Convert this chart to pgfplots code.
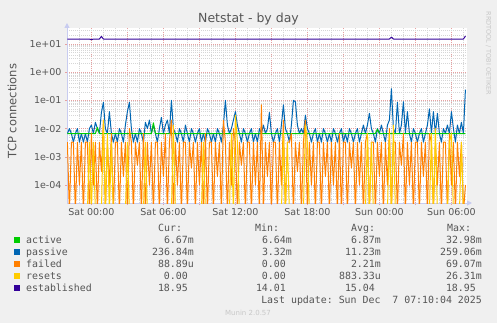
\documentclass[border=0pt]{standalone}
\usepackage{pgfplots}
\pgfplotsset{compat=1.18}
\usepackage{fontspec}
\setmainfont{DejaVu Sans}
\setmonofont{DejaVu Sans Mono}
\usetikzlibrary{arrows.meta}
\definecolor{bg}{HTML}{F0F0F0}
\definecolor{txt}{HTML}{555555}
\definecolor{cact}{HTML}{00CC00}
\definecolor{cpas}{HTML}{0066B3}
\definecolor{cfail}{HTML}{FF8000}
\definecolor{cres}{HTML}{FFCC00}
\definecolor{cest}{HTML}{330099}
\definecolor{majgrid}{HTML}{E6A0A0}
\definecolor{mingrid}{HTML}{D6D6D6}
\definecolor{axisc}{HTML}{C8CCF0}
\definecolor{wm}{HTML}{C8C8C8}
\begin{document}
\begin{tikzpicture}[x=1bp,y=1bp]
\fill[bg] (0,0) rectangle (497,323);
\begin{axis}[
  at={(67bp,120bp)}, anchor=south west,
  width=400bp, height=175bp, scale only axis,
  xmin=-122, xmax=1878,
  ymode=log, ymin=2.3e-5, ymax=36.9,
  axis background/.style={fill=white},
  axis lines=left,
  axis line style={axisc, line width=1bp, -{Triangle[length=5bp,width=5bp]}, shorten >=-5bp},
  xtick={0,180,...,1800},
  xticklabels={Sat 00:00,,Sat 06:00,,Sat 12:00,,Sat 18:00,,Sun 00:00,,Sun 06:00},
  minor xtick={-120,-60,...,1860},
  ytick={1e-4,1e-3,1e-2,1e-1,1,10},
  yticklabels={1e-04,1e-03,1e-02,1e-01,1e+00,1e+01},
  minor ytick={3e-5,4e-5,5e-5,6e-5,7e-5,8e-5,9e-5,
    2e-4,3e-4,4e-4,5e-4,6e-4,7e-4,8e-4,9e-4,
    2e-3,3e-3,4e-3,5e-3,6e-3,7e-3,8e-3,9e-3,
    2e-2,3e-2,4e-2,5e-2,6e-2,7e-2,8e-2,9e-2,
    0.2,0.3,0.4,0.5,0.6,0.7,0.8,0.9,
    2,3,4,5,6,7,8,9,20,30},
  grid=both,
  major grid style={majgrid, line width=0.6bp, dash pattern=on 1bp off 1bp},
  minor grid style={mingrid, line width=0.6bp, dash pattern=on 1bp off 1bp},
  tick align=outside,
  major tick length=2bp, minor tick length=0bp,
  major tick style={majgrid, line width=0.6bp},
  ticklabel style={font=\fontsize{9.5bp}{11bp}\selectfont, text=txt},
  every axis plot/.append style={line width=1bp, line join=round},
  clip=true,
]
\addplot[cpas, no marks] coordinates {
(-120,0.0067)(-110,0.01)(-100,0.0067)(-90,0.0033)(-80,0.0067)(-70,0.01)(-60,0.0033)(-50,0.0067)(-40,0.0033)(-30,0.0067)(-20,0.0033)(-10,0.01)
(0,0.0133)(10,0.0067)(20,0.0167)(30,0.01)(40,0.0067)(50,0.037)(60,0.085)(70,0.01)(80,0.0067)(90,0.04)(100,0.0067)(110,0.0033)
(120,0.0067)(130,0.0033)(140,0.01)(150,0.0067)(160,0.0033)(170,0.0133)(180,0.04)(190,0.085)(200,0.01)(210,0.0033)(220,0.0067)(230,0.0033)
(240,0.01)(250,0.0067)(260,0.0033)(270,0.0167)(280,0.01)(290,0.02)(300,0.0067)(310,0.0133)(320,0.0067)(330,0.0033)(340,0.01)(350,0.025)
(360,0.0067)(370,0.0133)(380,0.02)(390,0.0067)(400,0.1)(410,0.01)(420,0.0067)(430,0.0033)(440,0.01)(450,0.0067)(460,0.0033)(470,0.0133)
(480,0.0067)(490,0.0033)(500,0.01)(510,0.0067)(520,0.0033)(530,0.0067)(540,0.01)(550,0.0033)(560,0.0067)(570,0.0033)(580,0.01)(590,0.0067)
(600,0.0033)(610,0.0067)(620,0.0033)(630,0.01)(640,0.0067)(650,0.0033)(660,0.0133)(670,0.1)(680,0.0133)(690,0.0067)(700,0.01)(710,0.02)
(720,0.04)(730,0.0133)(740,0.0067)(750,0.0033)(760,0.01)(770,0.0067)(780,0.0033)(790,0.0067)(800,0.01)(810,0.0033)(820,0.0067)(830,0.0033)
(840,0.01)(850,0.0067)(860,0.0133)(870,0.0067)(880,0.01)(890,0.037)(900,0.0067)(910,0.0033)(920,0.0067)(930,0.01)(940,0.0033)(950,0.0133)
(960,0.07)(970,0.01)(980,0.0067)(990,0.0033)(1000,0.0133)(1010,0.1)(1020,0.09)(1030,0.0133)(1040,0.0067)(1050,0.01)(1060,0.0067)(1070,0.03)
(1080,0.01)(1090,0.0067)(1100,0.0033)(1110,0.0067)(1120,0.01)(1130,0.0033)(1140,0.0067)(1150,0.0033)(1160,0.01)(1170,0.0067)(1180,0.0033)(1190,0.0067)
(1200,0.0033)(1210,0.01)(1220,0.0067)(1230,0.0033)(1240,0.0067)(1250,0.01)(1260,0.0033)(1270,0.0067)(1280,0.0033)(1290,0.01)(1300,0.0067)(1310,0.0033)
(1320,0.0067)(1330,0.01)(1340,0.0033)(1350,0.0067)(1360,0.0133)(1370,0.0067)(1380,0.0133)(1390,0.035)(1400,0.01)(1410,0.0067)(1420,0.0033)(1430,0.01)
(1440,0.0067)(1450,0.0133)(1460,0.0067)(1470,0.0033)(1480,0.0133)(1490,0.02)(1500,0.26)(1510,0.01)(1520,0.0067)(1530,0.085)(1540,0.0067)(1550,0.0133)
(1560,0.09)(1570,0.0067)(1580,0.04)(1590,0.0067)(1600,0.0033)(1610,0.01)(1620,0.0067)(1630,0.0033)(1640,0.0067)(1650,0.01)(1660,0.0033)(1670,0.0067)
(1680,0.0133)(1690,0.05)(1700,0.0067)(1710,0.04)(1720,0.0067)(1730,0.035)(1740,0.0067)(1750,0.0033)(1760,0.01)(1770,0.0067)(1780,0.0133)(1790,0.0067)
(1800,0.04)(1810,0.01)(1820,0.0033)(1830,0.0133)(1840,0.0067)(1850,0.0167)(1860,0.0067)(1870,0.24)};
\addplot[cact, no marks] coordinates {(-120,0.00667)(20,0.00667)(30,0.011)(40,0.00667)(300,0.00667)(310,0.016)(320,0.00667)(1420,0.00667)(1430,0.0095)(1440,0.00667)(1870,0.00667)};
\addplot[cfail, no marks] coordinates {
(-120,0.0033)(-110,1e-5)(-100,0.0033)(-90,0.0033)(-80,1e-5)(-70,0.0033)(-60,0.0001)(-50,0.0033)(-40,1e-5)(-30,0.0033)(-20,0.0033)(-10,1e-5)
(0,0.0067)(10,0.0001)(20,0.0033)(30,1e-5)(40,0.0033)(50,0.0003)(60,0.02)(70,1e-5)(80,0.0033)(90,0.0001)(100,0.0067)(110,1e-5)
(120,0.0033)(130,0.0033)(140,1e-5)(150,0.0033)(160,0.0002)(170,0.0033)(180,1e-5)(190,0.01)(200,0.0033)(210,1e-5)(220,0.0033)(230,0.0005)
(240,0.0033)(250,1e-5)(260,0.0067)(270,1e-5)(280,0.0033)(290,0.0001)(300,0.0033)(310,1e-5)(320,0.0033)(330,0.0033)(340,1e-5)(350,0.0033)
(360,0.0002)(370,0.0067)(380,1e-5)(390,0.0033)(400,0.02)(410,1e-5)(420,0.0033)(430,0.0001)(440,0.0033)(450,1e-5)(460,0.0033)(470,0.0033)
(480,1e-5)(490,0.0033)(500,0.0004)(510,0.0033)(520,1e-5)(530,0.0033)(540,0.0001)(550,0.0033)(560,1e-5)(570,0.0067)(580,1e-5)(590,0.0033)
(600,0.0033)(610,1e-5)(620,0.0033)(630,0.0002)(640,0.0033)(650,1e-5)(660,0.02)(670,0.0033)(680,1e-5)(690,0.0033)(700,0.0001)(710,0.01)
(720,0.0033)(730,1e-5)(740,0.0033)(750,0.0005)(760,0.0033)(770,1e-5)(780,0.0033)(790,0.0033)(800,1e-5)(810,0.0033)(820,0.0001)(830,0.0033)
(840,1e-5)(850,0.07)(860,1e-5)(870,0.0033)(880,0.0002)(890,0.0033)(900,1e-5)(910,0.0033)(920,0.0033)(930,1e-5)(940,0.0033)(950,0.0001)
(960,0.02)(970,1e-5)(980,0.0033)(990,0.0033)(1000,0.0067)(1010,1e-5)(1020,0.0033)(1030,0.0003)(1040,0.0033)(1050,1e-5)(1060,0.0033)(1070,0.02)
(1080,1e-5)(1090,0.0033)(1100,0.0001)(1110,0.0033)(1120,1e-5)(1130,0.0033)(1140,0.0033)(1150,1e-5)(1160,0.0033)(1170,0.0002)(1180,0.0033)(1190,1e-5)
(1200,0.0033)(1210,0.0001)(1220,0.0033)(1230,1e-5)(1240,0.0067)(1250,1e-5)(1260,0.0033)(1270,0.0033)(1280,1e-5)(1290,0.0033)(1300,0.0004)(1310,0.0033)
(1320,1e-5)(1330,0.0033)(1340,0.0001)(1350,0.0033)(1360,1e-5)(1370,0.0033)(1380,0.0067)(1390,1e-5)(1400,0.0033)(1410,0.0033)(1420,1e-5)(1430,0.0033)
(1440,0.0002)(1450,0.0033)(1460,1e-5)(1470,0.0033)(1480,0.0001)(1490,0.01)(1500,1e-5)(1510,0.0033)(1520,0.0033)(1530,1e-5)(1540,0.0033)(1550,0.0005)
(1560,0.0067)(1570,1e-5)(1580,0.0033)(1590,0.0001)(1600,0.0033)(1610,1e-5)(1620,0.0033)(1630,0.0033)(1640,1e-5)(1650,0.0033)(1660,0.0002)(1670,0.0033)
(1680,1e-5)(1690,0.0067)(1700,0.0033)(1710,1e-5)(1720,0.0033)(1730,0.0001)(1740,0.0033)(1750,1e-5)(1760,0.0033)(1770,0.0033)(1780,1e-5)(1790,0.0067)
(1800,0.0001)(1810,0.0033)(1820,1e-5)(1830,0.0033)(1840,0.0002)(1850,0.0033)(1860,1e-5)(1870,0.0001)};
\addplot[cres, no marks] coordinates {
(-120,1e-5)(-20,1e-5)(-10,0.0033)(0,1e-5)(10,0.0033)(20,1e-5)(50,1e-5)(60,0.02)(70,1e-5)(80,0.0067)(90,1e-5)(100,0.0033)(110,1e-5)
(170,1e-5)(180,0.0033)(190,1e-5)(260,1e-5)(270,0.0033)(280,1e-5)(400,1e-5)(410,0.0133)(420,1e-5)(550,1e-5)(560,0.0033)(570,1e-5)
(690,1e-5)(700,0.0067)(710,1e-5)(720,0.03)(730,0.0033)(740,1e-5)(950,1e-5)(960,0.0067)(970,1e-5)(980,0.0033)(990,1e-5)
(1060,1e-5)(1070,0.0133)(1080,0.0033)(1090,1e-5)(1370,1e-5)(1380,0.0067)(1390,1e-5)(1400,0.0033)(1410,1e-5)
(1480,1e-5)(1490,0.0067)(1500,1e-5)(1510,0.0133)(1520,1e-5)(1690,1e-5)(1700,0.0067)(1710,1e-5)(1720,0.01)(1730,1e-5)
(1780,1e-5)(1790,0.0033)(1800,0.0067)(1810,1e-5)(1840,1e-5)(1850,0.0033)(1860,1e-5)(1870,1e-5)};
\addplot[cest, no marks] coordinates {(-120,15)(-10,15)(0,14.2)(10,15)(40,15)(50,18.5)(60,15)(1490,15)(1500,17.5)(1510,15)(1860,15)(1870,18.95)};
\end{axis}
% titles
\node[font=\fontsize{12.5bp}{14bp}\selectfont, text=txt, anchor=base] at (248.5,300.5) {Netstat - by day};
\node[font=\fontsize{11.5bp}{13bp}\selectfont, text=txt, rotate=90, anchor=center] at (12,212) {TCP connections};
\node[font=\fontsize{6.5bp}{8bp}\selectfont, text=wm, rotate=-90, anchor=center] at (488.5,269.5) {RRDTOOL / TOBI OETIKER};
\node[font=\fontsize{7bp}{8bp}\selectfont, text=wm, anchor=center] at (248,10) {Munin 2.0.57};
% legend
\begin{scope}[every node/.style={font=\ttfamily\fontsize{9.9bp}{12bp}\selectfont, text=txt, inner sep=0pt}]
\node[anchor=base west] at (158,91.7) {Cur:};
\node[anchor=base west] at (255,91.7) {Min:};
\node[anchor=base west] at (351,91.7) {Avg:};
\node[anchor=base west] at (447,91.7) {Max:};
\fill[cact] (14,80) rectangle (20,86);
\fill[cpas] (14,68) rectangle (20,74);
\fill[cfail] (14,56) rectangle (20,62);
\fill[cres] (14,44) rectangle (20,50);
\fill[cest] (14,32) rectangle (20,38);
\node[anchor=base west] at (26,79.4) {active};
\node[anchor=base west] at (26,67.4) {passive};
\node[anchor=base west] at (26,55.4) {failed};
\node[anchor=base west] at (26,43.4) {resets};
\node[anchor=base west] at (26,31.4) {established};
\node[anchor=base east] at (194,79.4) {6.67m};
\node[anchor=base east] at (194,67.4) {236.84m};
\node[anchor=base east] at (194,55.4) {88.89u};
\node[anchor=base east] at (188,43.4) {0.00};
\node[anchor=base east] at (188,31.4) {18.95};
\node[anchor=base east] at (292,79.4) {6.64m};
\node[anchor=base east] at (292,67.4) {3.32m};
\node[anchor=base east] at (286,55.4) {0.00};
\node[anchor=base east] at (286,43.4) {0.00};
\node[anchor=base east] at (286,31.4) {14.01};
\node[anchor=base east] at (381,79.4) {6.87m};
\node[anchor=base east] at (381,67.4) {11.23m};
\node[anchor=base east] at (381,55.4) {2.21m};
\node[anchor=base east] at (381,43.4) {883.33u};
\node[anchor=base east] at (375,31.4) {15.04};
\node[anchor=base east] at (482,79.4) {32.98m};
\node[anchor=base east] at (482,67.4) {259.06m};
\node[anchor=base east] at (482,55.4) {69.07m};
\node[anchor=base east] at (482,43.4) {26.31m};
\node[anchor=base east] at (476,31.4) {18.95};
\node[anchor=base east] at (482,19.4) {Last update: Sun Dec\ \ 7 07:10:04 2025};
\end{scope}
\end{tikzpicture}
\end{document}
